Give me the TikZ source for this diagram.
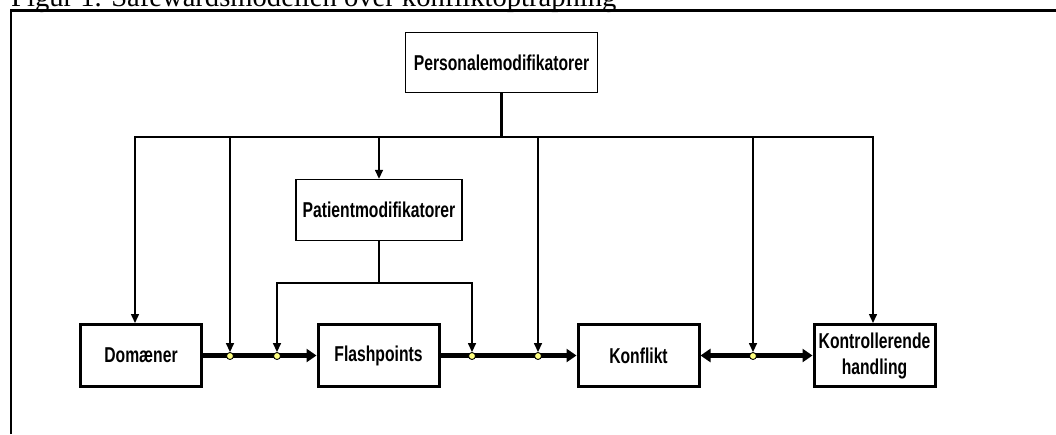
\documentclass[tikz,border=0pt]{standalone}
\usepackage{fontspec}
\setmainfont{Liberation Serif}
\newfontfamily\boxfont[FakeStretch=0.73]{Liberation Sans}
\usetikzlibrary{arrows.meta}
\definecolor{dotyellow}{HTML}{FFFF80}

\begin{document}
\begin{tikzpicture}[x=1pt,y=-1pt,
  box/.style={draw,line width=3pt,align=center,inner sep=0pt,
    font=\boxfont\bfseries\fontsize{21.5}{26}\selectfont,
    minimum width=121pt,minimum height=62pt},
  modbox/.style={box,line width=1.4pt},
  feed/.style={line width=1.5pt,-{Triangle[length=9pt,width=8pt]}},
  mainflow/.style={line width=4.5pt,-{Triangle[length=10pt,width=13pt]}},
  joint/.style={circle,draw,line width=0.9pt,fill=dotyellow,minimum size=7pt,inner sep=0pt}]
\useasboundingbox (0,0) rectangle (1056,434);
\node[anchor=base west,inner sep=0pt,font=\fontsize{28.6}{30}\selectfont] (title) at (11,6) {Figur 1. Safewardsmodellen over konfliktoptrapning};
\draw[line width=2.3pt] (11,434) -- (11,10.5) -- (1056,10.5);
\node[modbox,minimum width=192pt,minimum height=60pt] (pers) at (501.5,62.5) {Personalemodifikatorer};
\node[modbox,minimum width=166pt,minimum height=61pt] (pat) at (379,210) {Patientmodifikatorer};
\node[box,minimum width=121pt] (dom) at (141,355.5) {Domæner};
\node[box] (flash) at (378.5,355.5) {Flashpoints};
\node[box] (konf) at (638.5,355.5) {Konflikt};
\node[box] (kontr) at (874.5,355.5) {Kontrollerende\\handling};
\coordinate (busL) at (135,137);
\coordinate (busR) at (873,137);
\coordinate (pl) at (277,283);
\coordinate (pr) at (472,283);
\draw[mainflow] (dom) -- (flash);
\draw[mainflow] (flash) -- (konf);
\draw[mainflow,{Triangle[length=10pt,width=13pt]}-{Triangle[length=10pt,width=13pt]}] (konf) -- (kontr);
\foreach \x/\n in {230/1,277/2,472/3,538/4,753/5}
  \node[joint] (j\n) at (\x,356) {};
\draw[line width=3pt] (pers) -- (pers.south |- busL);
\draw[feed] (pers.south |- busL) -- (busL) -- (busL |- dom.north);
\draw[feed] (pers.south |- busL) -- (busR) -- (busR |- kontr.north);
\draw[feed] (pat.north |- busL) -- (pat.north);
\foreach \n in {1,4,5}
  \draw[feed] (j\n |- busL) -- (j\n);
\draw[line width=1.5pt] (pat) -- (pat.south |- pl);
\draw[feed] (pat.south |- pl) -- (pl) -- (j2);
\draw[feed] (pat.south |- pl) -- (pr) -- (j3);
\end{tikzpicture}
\end{document}
